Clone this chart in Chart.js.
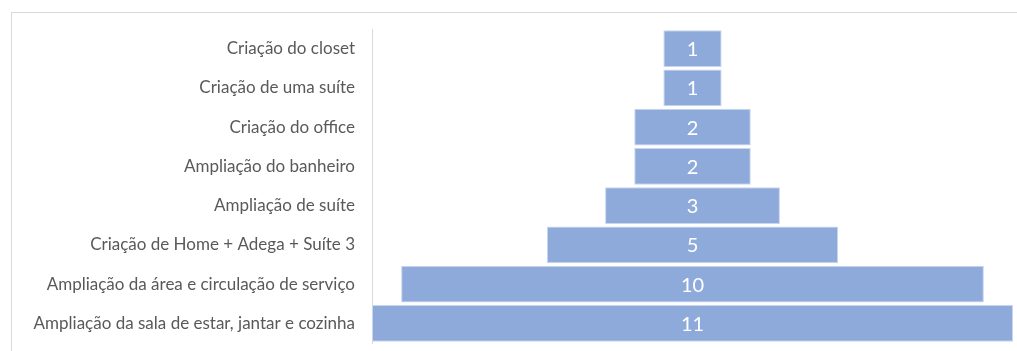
<!DOCTYPE html>
<html>
<head>
<meta charset="utf-8">
<script src="https://cdn.jsdelivr.net/npm/chart.js@4.4.0/dist/chart.umd.min.js"></script>
<style>
  body { margin: 0; background: #fff; overflow: hidden; }
  #frame { position: absolute; left: 11px; top: 12px; width: 1100px; height: 400px; border: 1px solid #d9d9d9; }
  #myChart { position: absolute; left: 0; top: 0; }
</style>
</head>
<body>
<div id="frame"></div>
<canvas id="myChart" width="1017" height="351"></canvas>
<script>
// categories, top to bottom
const categories = [
  "Criação do closet",
  "Criação de uma suíte",
  "Criação do office",
  "Ampliação do banheiro",
  "Ampliação de suíte",
  "Criação de Home + Adega + Suíte 3",
  "Ampliação da área e circulação de serviço",
  "Ampliação da sala de estar, jantar e cozinha"
];
const counts = [1, 1, 2, 2, 3, 5, 10, 11];
const maxCount = 11;

// invisible spacer so every bar is centred like a funnel
const spacer = counts.map(v => (maxCount - v) / 2);

const labelFont = "Lato, 'Open Sans', sans-serif";

const barLabels = {
  id: 'barLabels',
  afterDatasetsDraw(chart) {
    const ctx = chart.ctx;
    const meta = chart.getDatasetMeta(1);
    ctx.save();
    ctx.fillStyle = "#ffffff";
    ctx.font = "20px " + labelFont;
    ctx.textAlign = "center";
    ctx.textBaseline = "middle";
    meta.data.forEach((bar, i) => {
      ctx.fillText(String(counts[i]), (bar.x + bar.base) / 2, bar.y + 1);
    });
    ctx.restore();
  }
};

let ctx = document.getElementById("myChart").getContext("2d");

let chart = new Chart(ctx, {
  type: "bar",
  data: {
    labels: categories,
    datasets: [
      {
        label: "spacer",
        data: spacer,
        backgroundColor: "rgba(0,0,0,0)",
        barPercentage: 0.93,
        categoryPercentage: 1
      },
      {
        label: "Quantidade",
        data: counts,
        backgroundColor: "#8eaadb",
        borderColor: "#c9d6ee",
        borderWidth: 1,
        borderSkipped: false,
        barPercentage: 0.93,
        categoryPercentage: 1
      }
    ]
  },
  options: {
    indexAxis: "y",
    responsive: false,
    animation: false,
    layout: { padding: { top: 29, bottom: 8, left: 0, right: 4 } },
    plugins: {
      legend: { display: false },
      tooltip: { enabled: false }
    },
    scales: {
      x: {
        stacked: true,
        display: false,
        min: 0,
        max: maxCount
      },
      y: {
        stacked: true,
        grid: { display: false, drawTicks: false },
        border: { display: true, color: "#d9d9d9", width: 1 },
        ticks: {
          color: "#595959",
          font: { family: labelFont, size: 17 },
          padding: 17,
          autoSkip: false
        },
        afterFit(scale) {
          scale.width = 372;
          scale.paddingTop = 0;
          scale.paddingBottom = 0;
        }
      }
    }
  },
  plugins: [barLabels]
});
</script>
</body>
</html>
